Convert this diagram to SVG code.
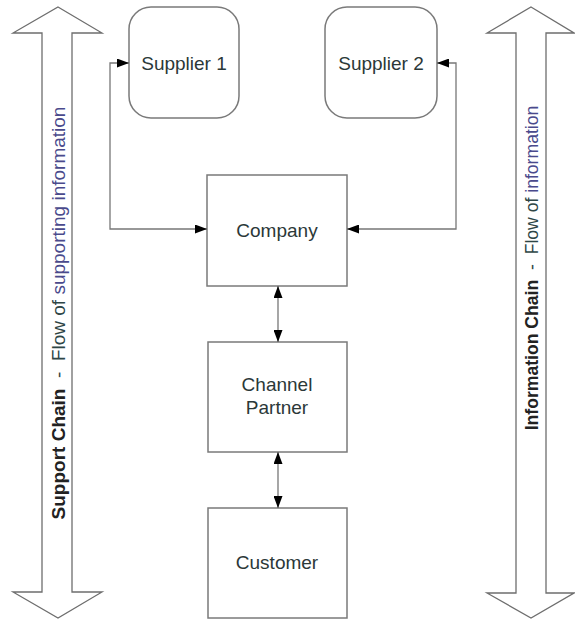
<svg xmlns="http://www.w3.org/2000/svg" width="575" height="620" viewBox="0 0 575 620">
<defs>
<marker id="ah" viewBox="0 0 12 9" refX="12" refY="4.5" markerWidth="12" markerHeight="9" markerUnits="userSpaceOnUse" orient="auto-start-reverse">
<path d="M0,0 L12,4.5 L0,9 Z" fill="#000"/>
</marker>
<style>
.big{fill:#fff;stroke:#6e6e6e;stroke-width:1.3}
.box{fill:#fff;stroke:#7a7a7a;stroke-width:1.5}
.lbl{font-family:"Liberation Sans",Arial,sans-serif;font-size:19px;fill:#2b3838;text-anchor:middle}
.side{font-family:"Liberation Sans",Arial,sans-serif;text-anchor:middle}
.b{font-weight:bold;fill:#222}
.g{fill:#2e4646}
.u{fill:#4a4a8c}
.con{fill:none;stroke:#777;stroke-width:1.3}
</style>
</defs>
<g id="support-chain">
<polygon class="big" points="58,7 102,33 72,33 72,592 102,592 58,618 13,592 42,592 42,33 13,33"/>
<text class="side" font-size="19" transform="translate(58,313) rotate(-90)" y="7"><tspan class="b">Support Chain</tspan><tspan class="g" xml:space="preserve">  -  Flow of </tspan><tspan class="u">supporting information</tspan></text>
</g>
<g id="information-chain">
<polygon class="big" points="531,7 574,33 546,33 546,593 574,593 531,618 487,593 516,593 516,33 487,33"/>
<text class="side" font-size="17.6" transform="translate(531,268) rotate(-90)" y="7"><tspan class="b">Information Chain</tspan><tspan class="g" xml:space="preserve">  -  Flow of </tspan><tspan class="u">information</tspan></text>
</g>
<g id="supplier1">
<rect class="box" x="129" y="7" width="110" height="111" rx="22"/>
<text class="lbl" x="184" y="70">Supplier 1</text>
</g>
<g id="supplier2">
<rect class="box" x="325" y="7" width="112" height="111" rx="22"/>
<text class="lbl" x="381" y="70">Supplier 2</text>
</g>
<g id="company">
<rect class="box" x="207" y="175" width="140" height="111"/>
<text class="lbl" x="277" y="237">Company</text>
</g>
<g id="channel-partner">
<rect class="box" x="208" y="342" width="139" height="110"/>
<text class="lbl" x="277" y="391">Channel</text>
<text class="lbl" x="277" y="414">Partner</text>
</g>
<g id="customer">
<rect class="box" x="208" y="508" width="139" height="110"/>
<text class="lbl" x="277" y="569">Customer</text>
</g>
<g id="connectors">
<path class="con" d="M129,63 H110 V229 H207" marker-start="url(#ah)" marker-end="url(#ah)"/>
<path class="con" d="M437,63 H456 V229 H347" marker-start="url(#ah)" marker-end="url(#ah)"/>
<path class="con" d="M278,286 V342" marker-start="url(#ah)" marker-end="url(#ah)"/>
<path class="con" d="M278,452 V508" marker-start="url(#ah)" marker-end="url(#ah)"/>
</g>
</svg>
